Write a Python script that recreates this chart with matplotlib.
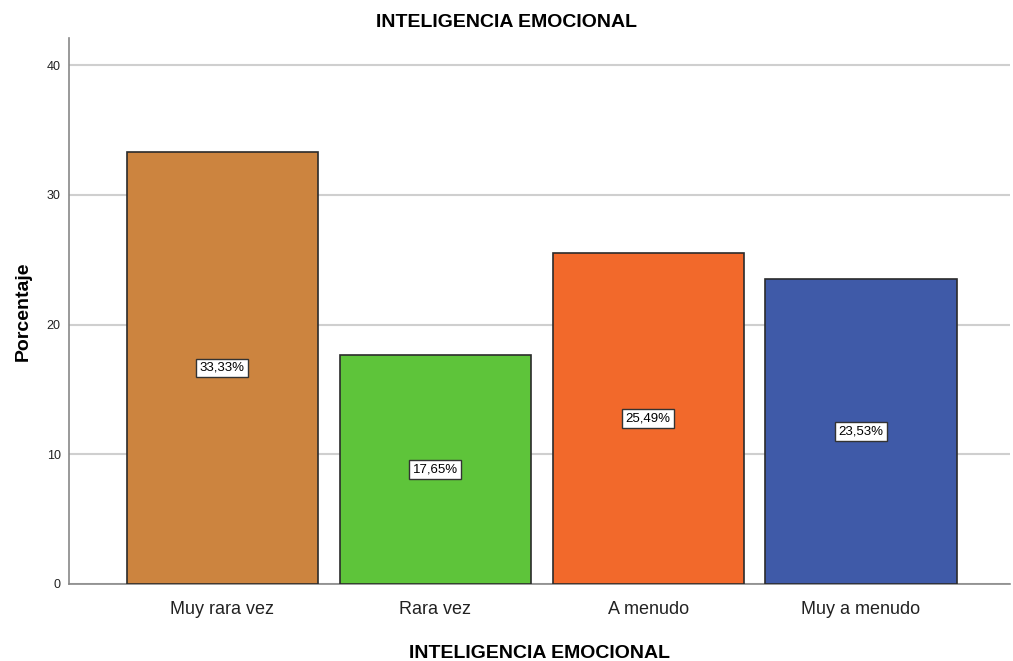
import matplotlib
matplotlib.use("Agg")
import matplotlib.pyplot as plt

categories = ["Muy rara vez", "Rara vez", "A menudo", "Muy a menudo"]
values = [33.33, 17.65, 25.49, 23.53]
labels = ["33,33%", "17,65%", "25,49%", "23,53%"]
colors = ["#CC843F", "#5EC43A", "#F2692B", "#3F5AA8"]
yticks = [0, 10, 20, 30, 40]

plt.rcParams['font.family'] = ['Liberation Sans', 'DejaVu Sans']

fig = plt.figure(figsize=(10.13, 6.61), dpi=100)
ax = fig.add_axes([0.0681, 0.1165, 0.929, 0.826])

x = list(range(len(categories)))
ax.bar(x, values, width=0.898, color=colors, edgecolor="#2b2b2b", linewidth=1.2, zorder=3)
for xi, v, lab in zip(x, values, labels):
    ax.text(xi, v / 2, lab, ha="center", va="center", fontsize=9.5, zorder=4,
            bbox=dict(boxstyle="square,pad=0.25", fc="white", ec="#333333", lw=1))

ax.set_xlim(-0.72, 3.70)
ax.set_ylim(0, 42.1)
ax.set_yticks(yticks)
ax.set_yticklabels([str(t) for t in yticks], fontsize=9)
ax.set_xticks(x)
ax.set_xticklabels(categories, fontsize=13)
ax.tick_params(axis="both", length=0, pad=6, colors="#222222")
ax.tick_params(axis="x", pad=12)
ax.grid(axis="y", color="#cfcfcf", linewidth=1.5, zorder=0)
for s in ["top", "right"]:
    ax.spines[s].set_visible(False)
for s in ["left", "bottom"]:
    ax.spines[s].set_color("#888888")
    ax.spines[s].set_linewidth(1.2)

ax.set_ylabel("Porcentaje", fontsize=14, fontweight="bold", labelpad=11)
ax.set_xlabel("INTELIGENCIA EMOCIONAL", fontsize=14, fontweight="bold", labelpad=20)
fig.text(0.5, 0.966, "INTELIGENCIA EMOCIONAL", ha="center", va="center",
         fontsize=14, fontweight="bold")

fig.savefig("out.png", dpi=100)
